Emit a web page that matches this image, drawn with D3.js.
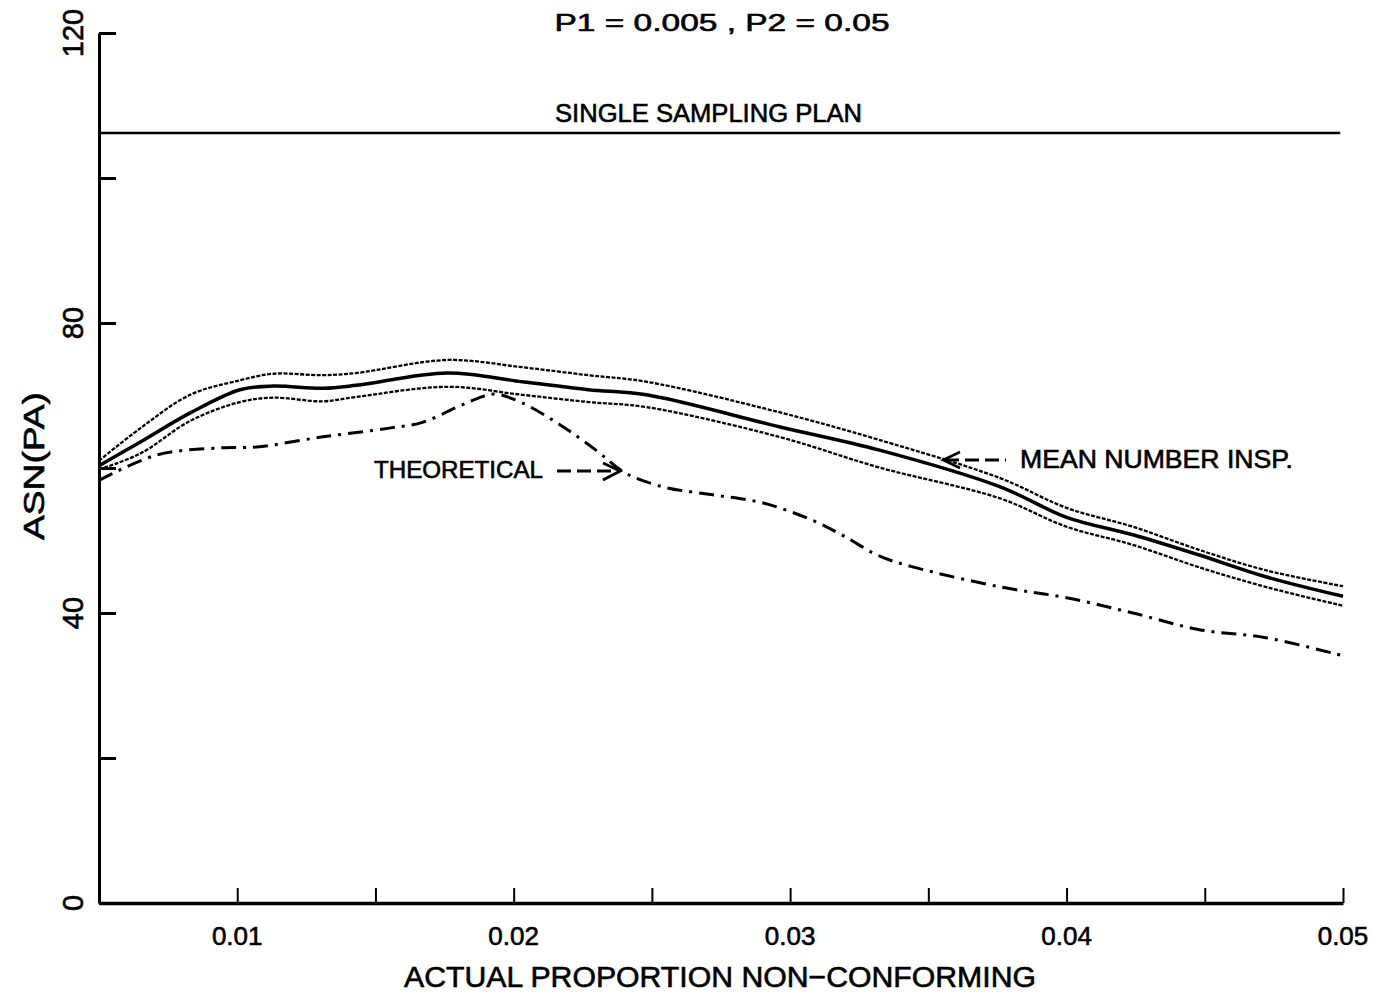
<!DOCTYPE html>
<html>
<head>
<meta charset="utf-8">
<script src="https://cdn.jsdelivr.net/npm/d3@7"></script>
<style>
  html, body { margin: 0; padding: 0; background: #fff; }
  svg { display: block; }
  text { font-family: "Liberation Sans", Arial, sans-serif; fill: #000; stroke: #000; stroke-width: 0.6px; }
</style>
</head>
<body>
<script>
// ---------- data ----------
const pGrid      = [0.005, 0.0065, 0.0083, 0.0101, 0.0113, 0.0131, 0.0143, 0.0176, 0.0203, 0.0227, 0.0248, 0.0296, 0.0332, 0.0376, 0.0400, 0.0424, 0.0448, 0.0472, 0.0500];
const meanASN    = [60.3, 63.6, 67.6, 70.8, 71.3, 71.0, 71.4, 73.1, 71.9, 70.8, 70.1, 65.7, 62.5, 57.4, 53.2, 50.8, 48.0, 45.0, 42.3];
const upperASN   = [61.0, 65.5, 70.1, 72.1, 73.0, 72.8, 73.1, 74.9, 73.9, 72.8, 71.9, 67.7, 63.9, 58.6, 54.5, 51.9, 48.7, 45.9, 43.7];
const lowerASN   = [59.8, 62.0, 66.5, 69.1, 69.7, 69.2, 69.8, 71.2, 70.1, 69.1, 68.4, 64.3, 60.1, 55.8, 51.9, 49.4, 46.3, 43.6, 41.0];
const pTheo      = [0.005, 0.0071, 0.0095, 0.0107, 0.0131, 0.0155, 0.0167, 0.0179, 0.0187, 0.0193, 0.0203, 0.0217, 0.0230, 0.0240, 0.0254, 0.0272, 0.0290, 0.0308, 0.0320, 0.0332, 0.0345, 0.0376, 0.0400, 0.0424, 0.0448, 0.0472, 0.0500];
const theoASN    = [58.3, 61.8, 62.8, 62.9, 64.3, 65.5, 66.3, 68.3, 69.6, 70.2, 69.0, 65.9, 62.4, 59.4, 57.4, 56.3, 55.2, 52.8, 50.5, 47.9, 46.3, 43.6, 42.1, 40.0, 37.7, 36.6, 34.1];
const singlePlanASN = 106.2;
const xTicks      = [0.01, 0.015, 0.02, 0.025, 0.03, 0.035, 0.04, 0.045, 0.05];
const xTickLabels = ["0.01", "0.02", "0.03", "0.04", "0.05"];
const yTicks      = [0, 20, 40, 60, 80, 100, 120];
const yTickLabels = ["0", "40", "80", "120"];
const titleText   = "P1 = 0.005 , P2 = 0.05";
const xLabel      = "ACTUAL PROPORTION NON\u2212CONFORMING";
const yLabel      = "ASN(PA)";

// ---------- layout ----------
const W = 1384, H = 998;
const mLeft = 99, mRight = 1343, mTop = 33, mBottom = 903;

const svg = d3.select("body").append("svg").attr("width", W).attr("height", H);

const x = d3.scaleLinear().domain([0.005, 0.05]).range([mLeft, mRight]);
const y = d3.scaleLinear().domain([0, 120]).range([mBottom, mTop]);

// axes
const yAxis = d3.axisRight(y).tickValues(yTicks).tickSizeInner(17).tickSizeOuter(0).tickFormat("");
const gy = svg.append("g").attr("transform", `translate(${mLeft},0)`).call(yAxis);
gy.selectAll("path, line").attr("stroke", "#000").attr("stroke-width", 3);

const xAxis = d3.axisTop(x).tickValues(xTicks).tickSizeInner(15).tickSizeOuter(0).tickFormat("");
const gx = svg.append("g").attr("transform", `translate(0,${mBottom})`).call(xAxis);
gx.select("path").attr("stroke", "#000").attr("stroke-width", 3.5);
gx.selectAll("line").attr("stroke", "#000").attr("stroke-width", 2);

// y tick labels (rotated)
svg.selectAll(".ytl").data(yTickLabels).enter().append("text")
  .attr("transform", d => `translate(83,${y(+d)}) rotate(-90)`)
  .attr("text-anchor", "middle")
  .style("font-size", "29px")
  .text(d => d);

// x tick labels
svg.selectAll(".xtl").data(xTickLabels).enter().append("text")
  .attr("x", d => x(+d)).attr("y", 945)
  .attr("text-anchor", "middle")
  .style("font-size", "26px")
  .text(d => d);

// axis titles
svg.append("text").attr("x", 720).attr("y", 987).attr("text-anchor", "middle")
  .attr("textLength", 632).attr("lengthAdjust", "spacingAndGlyphs")
  .style("font-size", "29px").text(xLabel);
svg.append("text").attr("transform", `translate(44,466) rotate(-90)`).attr("text-anchor", "middle")
  .attr("textLength", 148).attr("lengthAdjust", "spacingAndGlyphs")
  .style("font-size", "30px").text(yLabel);

// title
svg.append("text").attr("x", 722).attr("y", 31).attr("text-anchor", "middle")
  .attr("textLength", 335).attr("lengthAdjust", "spacingAndGlyphs")
  .style("font-size", "24px").text(titleText);

// single sampling plan line
svg.append("line")
  .attr("x1", x(0.005)).attr("x2", x(0.0499))
  .attr("y1", y(singlePlanASN)).attr("y2", y(singlePlanASN))
  .attr("stroke", "#000").attr("stroke-width", 2.5);
svg.append("text").attr("x", 555).attr("y", 122)
  .attr("textLength", 307).attr("lengthAdjust", "spacingAndGlyphs")
  .style("font-size", "25px").text("SINGLE SAMPLING PLAN");

// curves
const line = d3.line().x(d => x(d[0])).y(d => y(d[1])).curve(d3.curveCatmullRom.alpha(0.5));
const zipP = (ps, vs) => ps.map((p, i) => [p, vs[i]]);

svg.append("path").datum(zipP(pGrid, upperASN)).attr("d", line)
  .attr("fill", "none").attr("stroke", "#000").attr("stroke-width", 2.3).attr("stroke-dasharray", "4,1.5");
svg.append("path").datum(zipP(pGrid, lowerASN)).attr("d", line)
  .attr("fill", "none").attr("stroke", "#000").attr("stroke-width", 2.3).attr("stroke-dasharray", "4,1.5");
svg.append("path").datum(zipP(pGrid, meanASN)).attr("d", line)
  .attr("fill", "none").attr("stroke", "#000").attr("stroke-width", 3.5);
svg.append("path").datum(zipP(pTheo, theoASN)).attr("d", line)
  .attr("fill", "none").attr("stroke", "#000").attr("stroke-width", 3)
  .attr("stroke-dasharray", "15,7,3,7");

// annotations
svg.append("text").attr("x", 374).attr("y", 478)
  .attr("textLength", 169).attr("lengthAdjust", "spacingAndGlyphs")
  .style("font-size", "24px").text("THEORETICAL");
// arrow ---> for theoretical
svg.append("line").attr("x1", 557).attr("x2", 612).attr("y1", 471).attr("y2", 471)
  .attr("stroke", "#000").attr("stroke-width", 3).attr("stroke-dasharray", "14,6");
svg.append("path").attr("d", "M603,463 L620,471 L603,480")
  .attr("fill", "none").attr("stroke", "#000").attr("stroke-width", 3);

svg.append("text").attr("x", 1020).attr("y", 468)
  .attr("textLength", 273).attr("lengthAdjust", "spacingAndGlyphs")
  .style("font-size", "25px").text("MEAN NUMBER INSP.");
// arrow <--- for mean
svg.append("line").attr("x1", 945).attr("x2", 1006).attr("y1", 460).attr("y2", 460)
  .attr("stroke", "#000").attr("stroke-width", 3).attr("stroke-dasharray", "14,6");
svg.append("path").attr("d", "M960,452 L943,460 L960,468")
  .attr("fill", "none").attr("stroke", "#000").attr("stroke-width", 2.5);
</script>
</body>
</html>
